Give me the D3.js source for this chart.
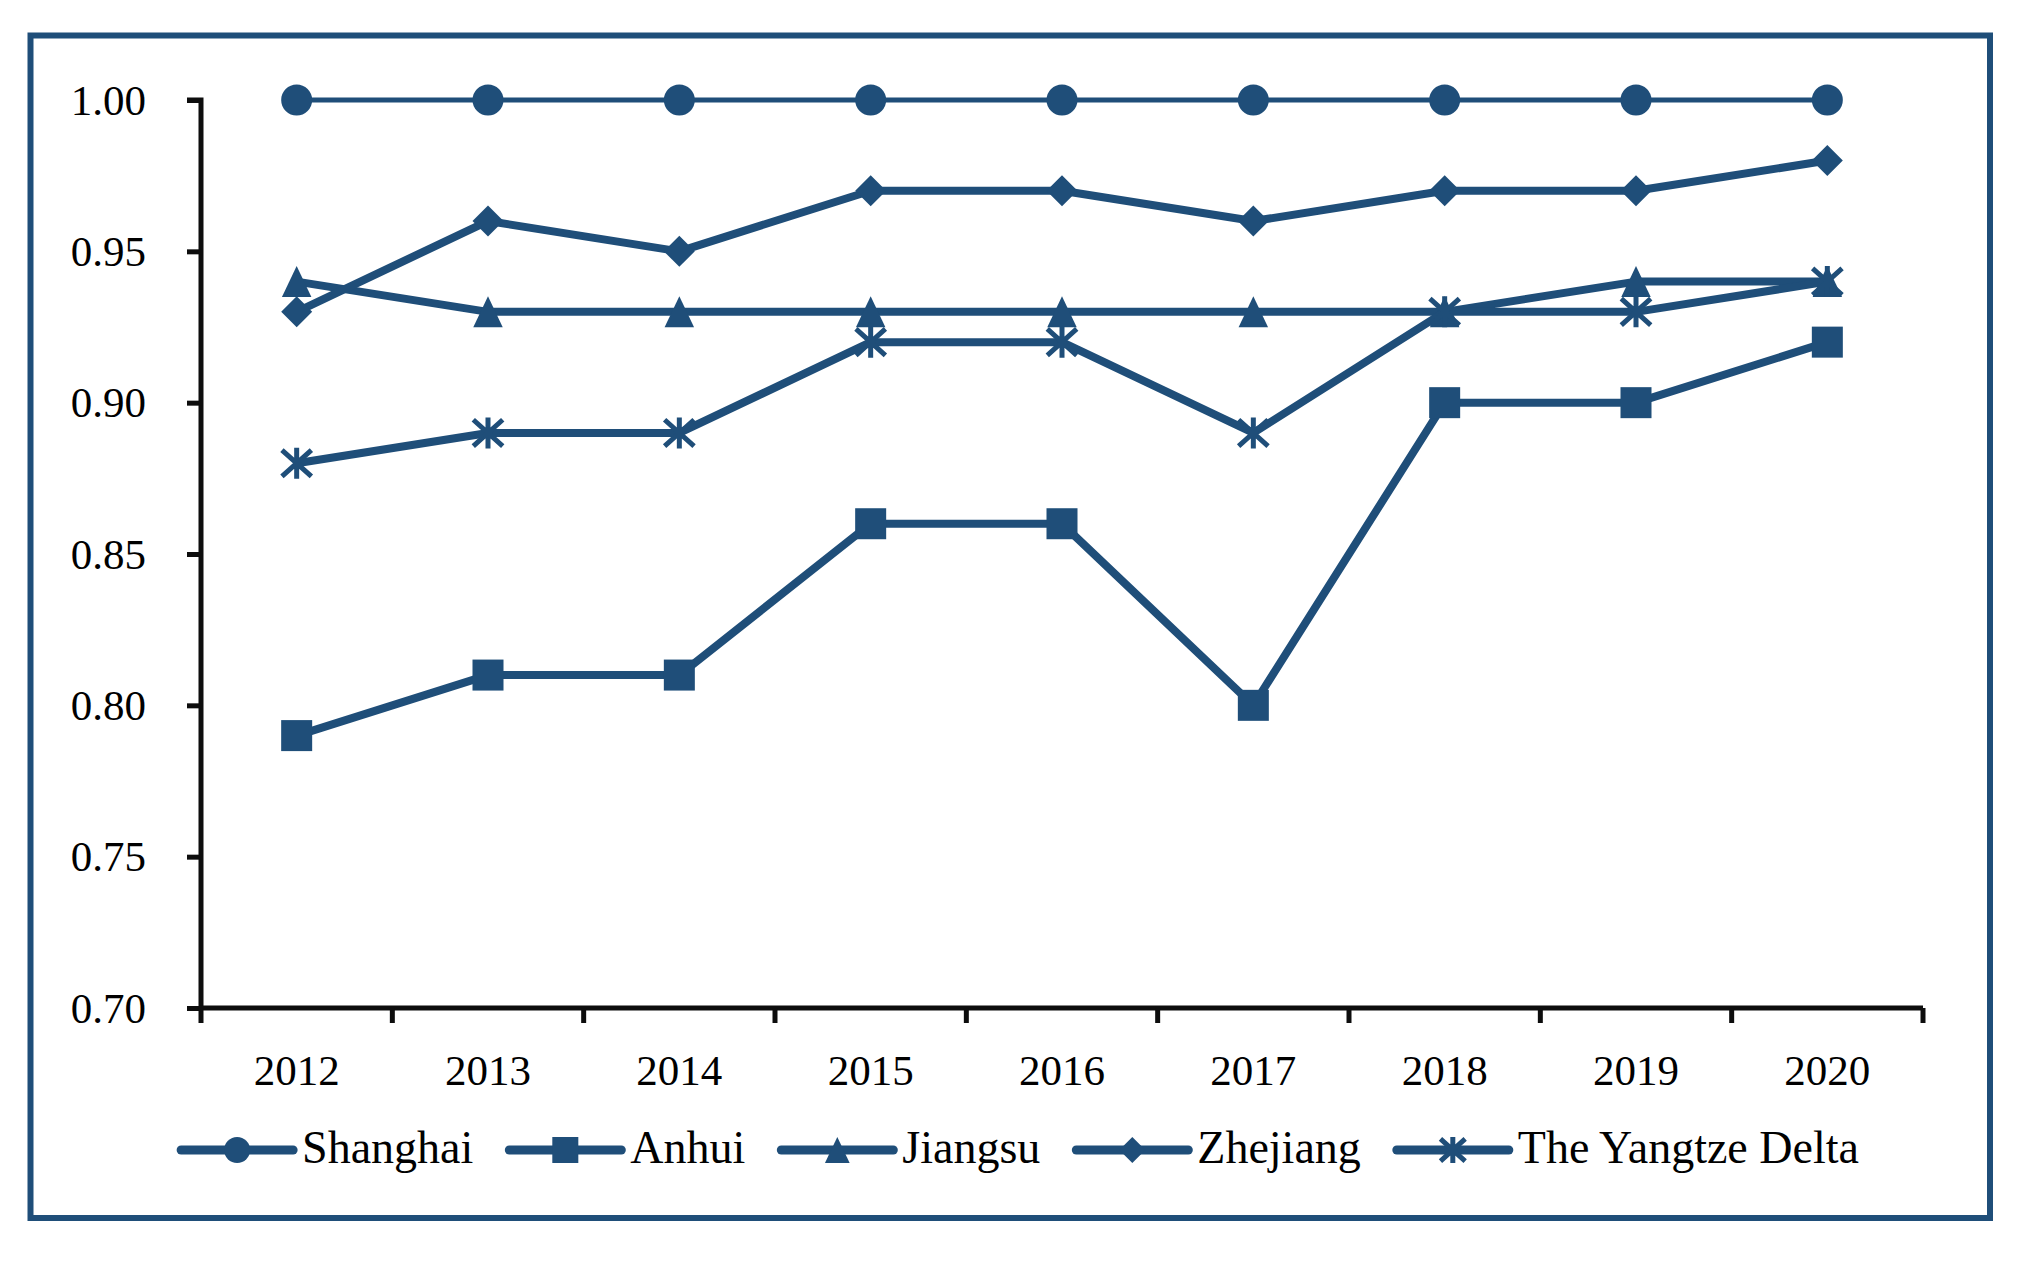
<!DOCTYPE html>
<html>
<head>
<meta charset="utf-8">
<script src="https://cdn.jsdelivr.net/npm/d3@7"></script>
<style>
  html, body { margin: 0; padding: 0; background: #fff; }
  svg { display: block; }
  text { font-family: "Liberation Serif", "DejaVu Serif", serif; fill: #000; }
</style>
</head>
<body>
<svg id="chart" width="2021" height="1262"></svg>
<script>
const years = ["2012","2013","2014","2015","2016","2017","2018","2019","2020"];
const shanghai = [1.00,1.00,1.00,1.00,1.00,1.00,1.00,1.00,1.00];
const anhui    = [0.79,0.81,0.81,0.86,0.86,0.80,0.90,0.90,0.92];
const jiangsu  = [0.94,0.93,0.93,0.93,0.93,0.93,0.93,0.94,0.94];
const zhejiang = [0.93,0.96,0.95,0.97,0.97,0.96,0.97,0.97,0.98];
const yangtze  = [0.88,0.89,0.89,0.92,0.92,0.89,0.93,0.93,0.94];
const seriesNames = ["Shanghai","Anhui","Jiangsu","Zhejiang","The Yangtze Delta"];
const yTicks = [0.70,0.75,0.80,0.85,0.90,0.95,1.00];

const series = [
  {name: seriesNames[0], values: shanghai, marker: "circle", width: 5},
  {name: seriesNames[1], values: anhui, marker: "square", width: 8},
  {name: seriesNames[2], values: jiangsu, marker: "triangle", width: 8},
  {name: seriesNames[3], values: zhejiang, marker: "diamond", width: 8},
  {name: seriesNames[4], values: yangtze, marker: "star", width: 8}
];

const color = "#1f4e79";
const axisColor = "#0d0d0d";
const svg = d3.select("#chart");

// outer frame
svg.append("rect")
  .attr("x", 30.5).attr("y", 35.5)
  .attr("width", 1959.5).attr("height", 1182.5)
  .attr("fill", "none").attr("stroke", color).attr("stroke-width", 6);

const x = d3.scaleBand().domain(years).range([201, 1923]);
const y = d3.scaleLinear().domain([0.70, 1.00]).range([1008, 100]);

// Y axis
const yAxis = svg.append("g").attr("transform", "translate(201,0)")
  .call(d3.axisLeft(y).tickValues(yTicks).tickFormat(d3.format(".2f")).tickSize(14).tickPadding(41));
yAxis.select(".domain").attr("stroke", axisColor).attr("stroke-width", 5).attr("d", `M-14,${y(1)}H0V${y(0.70)}`);
yAxis.selectAll(".tick line").attr("stroke", axisColor).attr("stroke-width", 5);
yAxis.selectAll(".tick text").attr("font-size", 43).attr("dy", "0.33em")
  .style("font-family", '"Liberation Serif", serif').attr("fill", "#000");

// X axis (ticks at band boundaries)
const xg = svg.append("g").attr("transform", "translate(0,1008)");
xg.append("line").attr("x1", 199).attr("x2", 1923).attr("stroke", axisColor).attr("stroke-width", 5);
const bounds = years.map(d => x(d)).concat([x.range()[1]]);
xg.selectAll("line.tk").data(bounds).enter().append("line").attr("class", "tk")
  .attr("x1", d => d).attr("x2", d => d).attr("y1", 0).attr("y2", 15)
  .attr("stroke", axisColor).attr("stroke-width", 5);
xg.selectAll("text").data(years).enter().append("text")
  .attr("x", d => x(d) + x.bandwidth() / 2).attr("y", 77)
  .attr("text-anchor", "middle").attr("font-size", 43).text(d => d);

// marker drawing
function drawMarker(g, type, cx, cy, s) {
  // s = nominal size (full width)
  const h = s / 2;
  if (type === "circle") {
    g.append("circle").attr("cx", cx).attr("cy", cy).attr("r", h).attr("fill", color);
  } else if (type === "square") {
    g.append("rect").attr("x", cx - h).attr("y", cy - h).attr("width", s).attr("height", s).attr("fill", color);
  } else if (type === "triangle") {
    g.append("path").attr("d", `M${cx},${cy - h}L${cx + h * 0.95},${cy + h}L${cx - h * 0.95},${cy + h}Z`).attr("fill", color);
  } else if (type === "diamond") {
    g.append("path").attr("d", `M${cx},${cy - h}L${cx + h},${cy}L${cx},${cy + h}L${cx - h},${cy}Z`).attr("fill", color);
  } else if (type === "star") {
    const a = h * 0.95, b = h * 0.85;
    g.append("path")
      .attr("d", `M${cx - a},${cy - b}L${cx + a},${cy + b}M${cx + a},${cy - b}L${cx - a},${cy + b}M${cx},${cy - h}L${cx},${cy + h}`)
      .attr("stroke", color).attr("stroke-width", 5).attr("fill", "none");
  }
}

const line = d3.line().x((d, i) => x(years[i]) + x.bandwidth() / 2).y(d => y(d));
const plot = svg.append("g");
series.forEach(s => {
  const g = plot.append("g");
  g.append("path").datum(s.values).attr("d", line)
    .attr("fill", "none").attr("stroke", color).attr("stroke-width", s.width)
    .attr("stroke-linejoin", "round");
  s.values.forEach((v, i) => drawMarker(g, s.marker, x(years[i]) + x.bandwidth() / 2, y(v), 31));
});

// legend
const legend = svg.append("g");
const ly = 1150;
const lineLen = 112, textGap = 9, itemGap = 36;
let cursor = 0;
const items = [];
series.forEach(s => {
  const it = legend.append("g");
  it.append("line").attr("x1", 0).attr("x2", lineLen).attr("y1", 0).attr("y2", 0)
    .attr("stroke", color).attr("stroke-width", 9).attr("stroke-linecap", "round");
  drawMarker(it, s.marker, lineLen / 2, 0, 26);
  const t = it.append("text").attr("x", lineLen + textGap).attr("y", 13)
    .attr("font-size", 46).text(s.name);
  const w = lineLen + textGap + t.node().getComputedTextLength();
  items.push({g: it, x: cursor});
  cursor += w + itemGap;
});
const total = cursor - itemGap;
const startX = 1020 - total / 2;
items.forEach(it => it.g.attr("transform", `translate(${startX + it.x},${ly})`));
</script>
</body>
</html>
